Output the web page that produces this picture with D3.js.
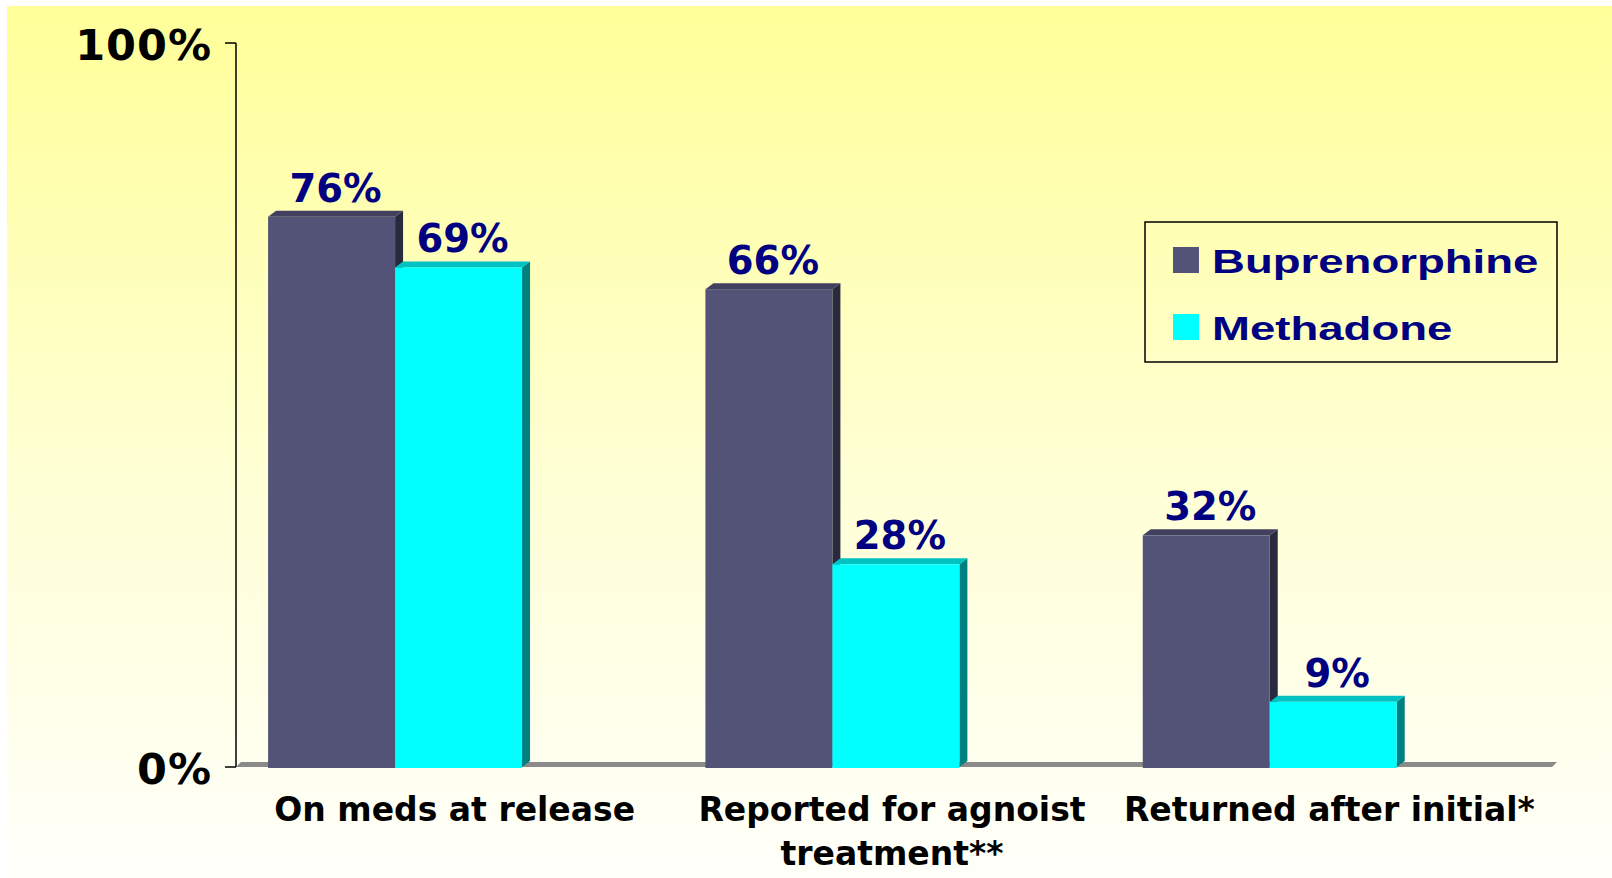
<!DOCTYPE html>
<html><head><meta charset="utf-8">
<script src="https://cdn.jsdelivr.net/npm/d3@7"></script>
<style>html,body{margin:0;padding:0;background:#fff;overflow:hidden;} svg{display:block;}</style>
</head><body>
<svg id="chart" width="1612" height="878"></svg>
<script>
// ---- data ----
const categories = ["On meds at release", "Reported for agnoist treatment**", "Returned after initial*"];
const seriesNames = ["Buprenorphine", "Methadone"];
const buprenorphine = [76, 66, 32];
const methadone = [69, 28, 9];
const yTickValues = [0, 100];
const yTickLabels = ["0%", "100%"];

// ---- styles / layout ----
const W = 1612, H = 878;
const axisX = 236, floorRight = 1557;
const yTop = 43, yZero = 767;
const depthX = 8, depthY = 6;
const colors = {
  Buprenorphine: {front: "#535377", top: "#41415f", side: "#2a2a3f"},
  Methadone: {front: "#00ffff", top: "#00c2c2", side: "#008080"}
};
const seriesValues = {Buprenorphine: buprenorphine, Methadone: methadone};

const svg = d3.select("#chart");
const defs = svg.append("defs");
const grad = defs.append("linearGradient").attr("id", "bg").attr("x1", 0).attr("y1", 0).attr("x2", 0).attr("y2", 1);
grad.append("stop").attr("offset", "0%").attr("stop-color", "#ffff99");
grad.append("stop").attr("offset", "55%").attr("stop-color", "#ffffd6");
grad.append("stop").attr("offset", "100%").attr("stop-color", "#fffffa");

svg.append("rect").attr("x", 7).attr("y", 6).attr("width", W - 7).attr("height", H - 6).attr("fill", "url(#bg)");

// scales
const y = d3.scaleLinear().domain([0, 100]).range([yZero, yTop]);
const x0 = d3.scaleBand().domain(categories).range([axisX, 1548]).paddingInner(0).paddingOuter(0);
const x1 = d3.scaleBand().domain(seriesNames).range([0, x0.bandwidth()])
  .paddingInner(0).paddingOuter(0.722).align(0.175);

// floor
svg.append("path")
  .attr("d", `M${axisX},${y(0)} L${floorRight - 5},${y(0)} L${floorRight},${y(0) - 5} L${axisX + 5},${y(0) - 5} Z`)
  .attr("fill", "#8a8a8a");

// bars
const data = [];
categories.forEach((c, i) => seriesNames.forEach(s => data.push({cat: c, series: s, value: seriesValues[s][i]})));

const bars = svg.append("g").selectAll("g.bar").data(data).join("g").attr("class", "bar");
bars.each(function(d) {
  const g = d3.select(this);
  const xl = x0(d.cat) + x1(d.series);
  const xr = xl + x1.bandwidth();
  const yt = y(d.value), yb = y(0);
  const col = colors[d.series];
  g.append("path")
    .attr("d", `M${xr},${yt} L${xr + depthX},${yt - depthY} L${xr + depthX},${yb - depthY} L${xr},${yb} Z`)
    .attr("fill", col.side);
  g.append("path")
    .attr("d", `M${xl},${yt} L${xl + depthX},${yt - depthY} L${xr + depthX},${yt - depthY} L${xr},${yt} Z`)
    .attr("fill", col.top);
  g.append("rect").attr("x", xl).attr("y", yt).attr("width", x1.bandwidth()).attr("height", yb - yt + 1)
    .attr("fill", col.front);
});

// value labels
svg.append("g").selectAll("text").data(data).join("text")
  .attr("x", d => x0(d.cat) + x1(d.series) + x1.bandwidth() / 2 + depthX / 2)
  .attr("y", d => y(d.value) - 15)
  .attr("text-anchor", "middle")
  .attr("font-family", "DejaVu Sans, Verdana, sans-serif")
  .attr("font-weight", "bold")
  .attr("font-size", 38.5)
  .attr("fill", "#000080")
  .text(d => d.value + "%");

// y axis
const yAxis = svg.append("g");
yAxis.append("line").attr("x1", axisX).attr("x2", axisX).attr("y1", y(100)).attr("y2", y(0))
  .attr("stroke", "#000").attr("stroke-width", 1.5);
yAxis.selectAll("line.tick").data(yTickValues).join("line").attr("class", "tick")
  .attr("x1", axisX - 11).attr("x2", axisX).attr("y1", d => y(d)).attr("y2", d => y(d))
  .attr("stroke", "#000").attr("stroke-width", 1.5);
yAxis.selectAll("text").data(yTickValues).join("text")
  .attr("x", 212).attr("y", d => y(d) + 17)
  .attr("text-anchor", "end")
  .attr("font-family", "DejaVu Sans, Verdana, sans-serif")
  .attr("font-weight", "bold")
  .attr("font-size", 43)
  .attr("letter-spacing", 1)
  .attr("fill", "#000")
  .text((d, i) => yTickLabels[i]);

// category labels with wrapping
const catG = svg.append("g");
categories.forEach(c => {
  const cx = x0(c) + x0.bandwidth() / 2;
  const t = catG.append("text")
    .attr("x", cx)
    .attr("y", 821)
    .attr("text-anchor", "middle")
    .attr("font-family", "DejaVu Sans, Verdana, sans-serif")
    .attr("font-weight", "bold")
    .attr("font-size", 33)
    .attr("fill", "#000");
  const words = c.split(" ");
  let line = [];
  let tspan = t.append("tspan").attr("x", cx).attr("dy", 0);
  words.forEach(w => {
    line.push(w);
    tspan.text(line.join(" "));
    if (tspan.node().getComputedTextLength() > 430 && line.length > 1) {
      line.pop();
      tspan.text(line.join(" "));
      line = [w];
      tspan = t.append("tspan").attr("x", cx).attr("dy", 44).text(w);
    }
  });
});

// legend
const lg = svg.append("g");
lg.append("rect").attr("x", 1145).attr("y", 222).attr("width", 412).attr("height", 140)
  .attr("fill", "none").attr("stroke", "#000").attr("stroke-width", 1.5);
seriesNames.forEach((s, i) => {
  const rowY = 273 + i * 67;
  lg.append("rect").attr("x", 1173).attr("y", rowY - 26).attr("width", 26).attr("height", 26)
    .attr("fill", colors[s].front);
  lg.append("text")
    .attr("transform", `translate(1212,${rowY}) scale(1.36,1)`)
    .attr("font-family", "Liberation Sans, Arial, sans-serif")
    .attr("font-weight", "bold")
    .attr("font-size", 33.5)
    .attr("fill", "#000080")
    .text(s);
});
</script>
</body></html>
